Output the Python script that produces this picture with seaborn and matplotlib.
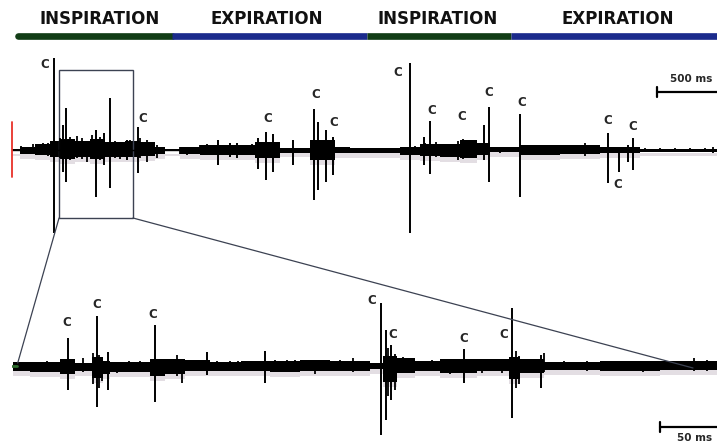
import numpy as np
import matplotlib.pyplot as plt
import pandas as pd
import seaborn as sns
from matplotlib.patches import Rectangle, ConnectionPatch

sns.set_theme(style="white")
plt.rcParams['font.family'] = ['DejaVu Sans']

# breathing phases over the full recording (ms)
phase_names = ["INSPIRATION", "EXPIRATION", "INSPIRATION", "EXPIRATION"]
phase_start = [50, 1333, 2958, 4158]
phase_end = [1333, 2958, 4158, 5875]
phase_label_t = [733, 2125, 3550, 5050]
phase_colors = ["#123d16", "#1b2b8c", "#123d16", "#1b2b8c"]

# full recording: big deflections (time ms, amplitude up / down, a.u.)
top_spike_t = [350, 425, 450, 700, 767, 817, 958, 1050, 1717, 1817, 1875, 2050, 2117, 2175,
               2342, 2517, 2550, 2617, 2675, 3317, 3433, 3483, 3933, 3975, 4233, 4967, 5058,
               5133, 5175]
top_spike_up = [9.2, 2.5, 4.2, 2.0, 1.7, 5.2, 1.0, 2.3, 1.0, 0.7, 0.7, 1.2, 1.8, 1.6,
                1.0, 4.1, 2.8, 2.0, 1.3, 8.7, 1.3, 2.9, 2.5, 4.3, 3.6, 1.7, 0.3,
                0.5, 1.2]
top_spike_dn = [8.3, 2.2, 3.2, 4.7, 1.5, 3.8, 1.0, 2.3, 1.5, 0.7, 0.8, 1.9, 3.0, 2.2,
                1.5, 5.0, 4.0, 3.2, 2.5, 8.3, 1.5, 2.4, 1.0, 3.2, 4.7, 3.3, 2.2,
                1.2, 2.0]

# full recording: small background spikes
top_minor_t = [75, 175, 258, 300, 400, 483, 542, 583, 625, 667, 733, 858, 900, 983, 1067,
               1125, 1167, 1208, 1400, 1458, 1567, 1625, 1792, 1958, 2000, 3358, 3442, 3533,
               3600, 3650, 3717, 3758, 3800, 3858, 4067, 4150, 4317, 4400, 4483, 4567, 4692,
               4775, 4858, 5275, 5400, 5525, 5650, 5775, 5842]
top_minor_up = [0.4, 0.6, 0.7, 0.7, 1.2, 1.3, 1.4, 1.2, 0.9, 1.5, 1.3, 0.9, 0.7, 1.0, 1.2,
                1.0, 0.8, 0.5, 0.3, 0.2, 0.5, 0.6, 0.5, 0.5, 0.6, 0.4, 0.7, 0.8,
                0.6, 0.6, 0.9, 1.1, 0.9, 0.7, 0.3, 0.3, 0.5, 0.5, 0.5, 0.5, 0.5,
                0.7, 0.4, 0.2, 0.2, 0.2, 0.2, 0.2, 0.3]
top_minor_dn = [0.3, 0.4, 0.5, 0.6, 0.8, 1.0, 0.8, 0.9, 1.2, 0.9, 1.0, 0.8, 0.9, 0.7, 0.8,
                1.2, 0.6, 0.8, 0.4, 0.5, 0.4, 0.5, 0.5, 0.4, 0.5, 0.3, 0.5, 0.7,
                0.5, 0.6, 1.0, 0.9, 0.8, 0.7, 0.3, 0.2, 0.5, 0.4, 0.4, 0.4, 0.4,
                0.6, 0.4, 0.2, 0.2, 0.15, 0.15, 0.2, 0.3]

# full recording: dense background sound envelope (segment starts, ms)
top_env_t = [0, 67, 192, 317, 400, 525, 650, 775, 942, 1067, 1192, 1275, 1400, 1567, 2025,
             2233, 2483, 2692, 2817, 3233, 3400, 3567, 3733, 3875, 3983, 4233, 4567, 4900,
             5233, 5875]
top_env_up = [0.1, 0.3, 0.6, 0.9, 1.1, 0.9, 1.1, 0.8, 0.9, 0.8, 0.3, 0.1, 0.3, 0.5, 0.8,
              0.2, 1.0, 0.3, 0.2, 0.3, 0.6, 0.6, 1.0, 0.7, 0.3, 0.5, 0.5, 0.3, 0.15]
top_env_dn = [0.1, 0.4, 0.5, 0.7, 0.9, 0.7, 0.9, 0.7, 0.7, 0.6, 0.4, 0.1, 0.4, 0.5, 0.8,
              0.25, 1.0, 0.3, 0.3, 0.5, 0.6, 0.7, 0.8, 0.5, 0.2, 0.5, 0.4, 0.3, 0.15]

# crackle markers on the full recording
top_label_t = [275, 1092, 2133, 2533, 2683, 3217, 3500, 3750, 3975, 4250, 4967, 5050, 5175]
top_label_y = [8.6, 3.1, 3.1, 5.5, 2.7, 7.8, 3.9, 3.3, 5.7, 4.7, 2.9, -3.5, 2.3]

# zoomed window (ms on the full recording)
zoom_window = [392, 1008]
zoom_amp = [-6.8, 8.0]

# zoomed segment: big deflections (ms from window start)
bot_spike_t = [49, 74, 84, 125, 171, 221, 323, 327, 332, 396, 438, 463]
bot_spike_up = [2.8, 5.0, 1.4, 4.1, 1.4, 1.5, 6.3, 3.6, 2.1, 1.7, 5.8, 1.1]
bot_spike_dn = [2.4, 4.1, 2.4, 3.6, 0.9, 1.7, 6.9, 5.4, 3.4, 1.7, 5.2, 2.2]

bot_minor_t = [13, 23, 31, 40, 62, 71, 76, 79, 92, 102, 112, 144, 149, 158, 179, 191, 198,
               206, 214, 230, 241, 248, 254, 265, 276, 287, 298, 309, 329, 335, 342, 348,
               359, 368, 383, 403, 411, 418, 429, 441, 444, 451, 459, 466, 483, 503, 523,
               538, 552, 576, 597, 608]
bot_minor_up = [0.3, 0.4, 0.5, 0.4, 0.8, 1.3, 1.1, 0.8, 0.4, 0.5, 0.5, 1.1, 0.5, 0.5, 0.5,
                0.5, 0.5, 0.5, 0.5, 0.6, 0.6, 0.6, 0.6, 0.4, 0.5, 0.6, 0.8, 0.5, 1.8,
                1.2, 0.9, 0.8, 0.5, 0.6, 0.7, 0.6, 0.6, 0.5, 0.7, 1.5, 1.0, 0.6, 0.6,
                1.3, 0.5, 0.5, 0.5, 0.4, 0.5, 0.5, 0.8, 0.6]
bot_minor_dn = [0.3, 0.4, 0.4, 0.4, 0.6, 1.8, 2.2, 1.5, 0.7, 0.5, 0.5, 1.0, 1.7, 0.4, 0.4,
                0.5, 0.4, 0.5, 0.5, 0.5, 0.5, 0.6, 0.5, 0.8, 0.4, 0.5, 0.6, 0.4, 3.0,
                2.4, 0.7, 0.6, 0.5, 0.5, 0.8, 0.5, 0.7, 0.4, 0.7, 2.2, 1.8, 0.5, 0.6,
                0.6, 0.4, 0.5, 0.4, 0.4, 0.6, 0.4, 0.5, 0.5]

bot_env_t = [1, 16, 42, 55, 70, 80, 86, 121, 134, 151, 173, 200, 226, 252, 278, 313, 325,
             337, 353, 375, 407, 435, 445, 466, 515, 567, 617]
bot_env_up = [0.4, 0.4, 0.7, 0.3, 0.9, 0.5, 0.4, 0.7, 0.7, 0.6, 0.4, 0.5, 0.5, 0.6, 0.5,
              0.3, 1.0, 0.8, 0.5, 0.7, 0.7, 0.9, 0.7, 0.4, 0.5, 0.5]
bot_env_dn = [0.5, 0.6, 0.8, 0.5, 1.2, 0.8, 0.6, 1.0, 0.8, 0.5, 0.5, 0.5, 0.6, 0.5, 0.5,
              0.3, 1.6, 0.7, 0.5, 0.7, 0.5, 1.3, 0.7, 0.4, 0.5, 0.4]

bot_label_t = [48, 74, 123, 315, 333, 395, 430]
bot_label_y = [4.4, 6.2, 5.2, 6.5, 3.2, 2.8, 3.1]

W, H = 717, 443
fig = plt.figure(figsize=(W / 100, H / 100), dpi=100)
ax_top = fig.add_axes([12 / W, 193 / H, 705 / W, 250 / H])
ax_bot = fig.add_axes([12 / W, 0, 705 / W, 163 / H])


def draw_trace(ax, env_t, env_up, env_dn, sp_t, sp_up, sp_dn, mi_t, mi_up, mi_dn):
    env = pd.DataFrame({"t": env_t,
                        "up": list(env_up) + [env_up[-1]],
                        "dn": [-v for v in env_dn] + [-env_dn[-1]]})
    # soft scan shadow under the trace
    ax.fill_between(env["t"], env["up"] - 0.45, env["dn"] - 0.45, step="post",
                    color="#b9aeb9", alpha=0.4, lw=0)
    sns.lineplot(x=[env_t[0], env_t[-1]], y=[0, 0], ax=ax, color="black", lw=1.0)
    ax.fill_between(env["t"], env["up"], env["dn"], step="post", color="black", lw=0)
    ax.vlines(mi_t, [-v for v in mi_dn], mi_up, color="black", lw=1.3)
    ax.vlines(sp_t, [-v for v in sp_dn], sp_up, color="black", lw=1.4)


draw_trace(ax_top, top_env_t, top_env_up, top_env_dn,
           top_spike_t, top_spike_up, top_spike_dn,
           top_minor_t, top_minor_up, top_minor_dn)
ax_top.set_xlim(0, 5875)
ax_top.set_ylim(-10, 15)
ax_top.axis("off")

# phase bar and headers
for i, name in enumerate(phase_names):
    ax_top.plot([phase_start[i], phase_end[i]], [11.45, 11.45], color=phase_colors[i],
                lw=4.8, solid_capstyle="round" if i == 0 else "butt")
    ax_top.text(phase_label_t[i], 13.1, name, ha="center", va="center",
                fontsize=12, fontweight="bold", color="#111111")

for t, y in zip(top_label_t, top_label_y):
    ax_top.text(t, y, "C", ha="center", va="center", fontsize=8.5, fontweight="bold")

# red amplitude marker
ax_top.plot([0, 0], [2.8, -2.7], color="#e8322a", lw=1.3, clip_on=False)

# 500 ms scale bar
ax_top.plot([5375, 5875], [5.8, 5.8], color="black", lw=1.6, clip_on=False)
ax_top.plot([5375, 5375], [5.3, 6.3], color="black", lw=1.6)
ax_top.text(5658, 7.1, "500 ms", ha="center", va="center", fontsize=7.5, fontweight="bold")

# zoom window box
ax_top.add_patch(Rectangle((zoom_window[0], zoom_amp[0]), zoom_window[1] - zoom_window[0],
                           zoom_amp[1] - zoom_amp[0], fill=False, ec="#3c4252", lw=1.0))

draw_trace(ax_bot, bot_env_t, bot_env_up, bot_env_dn,
           bot_spike_t, bot_spike_up, bot_spike_dn,
           bot_minor_t, bot_minor_up, bot_minor_dn)
# short green lead-in of the zoomed trace
ax_bot.plot([0, 4], [0, 0], color="#2e6b2e", lw=2.0)
ax_bot.set_xlim(0, 617)
ax_bot.set_ylim(-7.7, 8.6)
ax_bot.axis("off")

for t, y in zip(bot_label_t, bot_label_y):
    ax_bot.text(t, y, "C", ha="center", va="center", fontsize=8.5, fontweight="bold")

# 50 ms scale bar
ax_bot.plot([567, 617], [-6.1, -6.1], color="black", lw=1.6, clip_on=False)
ax_bot.plot([567, 567], [-5.6, -6.6], color="black", lw=1.6)
ax_bot.text(597, -7.2, "50 ms", ha="center", va="center", fontsize=7.5, fontweight="bold")

# lines linking the window to the zoomed trace
for xa, xb, yb in [(zoom_window[0], 5, 0.3), (zoom_window[1], 596, -0.2)]:
    con = ConnectionPatch(xyA=(xa, zoom_amp[0]), coordsA=ax_top.transData,
                          xyB=(xb, yb), coordsB=ax_bot.transData,
                          color="#3c4252", lw=0.9)
    fig.add_artist(con)

fig.savefig("out.png", dpi=100, facecolor="white")
